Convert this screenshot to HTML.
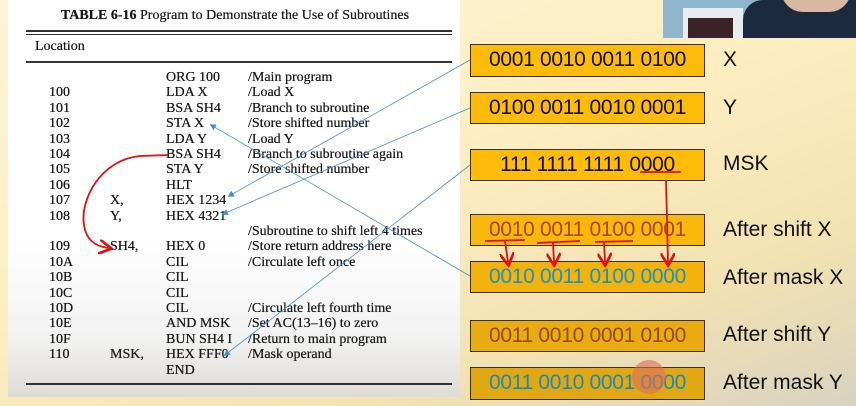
<!DOCTYPE html>
<html><head><meta charset="utf-8">
<style>
*{margin:0;padding:0;box-sizing:border-box}
body{width:856px;height:406px;overflow:hidden;position:relative;
background:linear-gradient(160deg,#fdf3d6 0%,#fdeec2 45%,#f3e2b2 75%,#d9d2c0 100%);
font-family:"Liberation Sans",sans-serif}
#panel{position:absolute;left:8px;top:0;width:452px;height:397px;
background:linear-gradient(180deg,#fff 0%,#fff 60%,#f2f2f2 85%,#dedcd6 100%)}
.t{position:absolute;font-family:"Liberation Serif",serif;font-size:14px;color:#1a1a1a;white-space:nowrap;line-height:1;text-shadow:0 0 0.4px #000}
.rule{position:absolute;left:18px;width:426px;background:#333}
.box{position:absolute;left:470px;width:235px;border:1.5px solid #333;background:#ffbb0a;
font-size:21px;line-height:30px;text-align:center;color:#111;letter-spacing:-0.3px}
.lab{position:absolute;left:723px;font-size:21px;color:#111;white-space:nowrap}
#cam{position:absolute;left:663px;top:0;width:193px;height:38px;background:#8fb6cc;overflow:hidden}
</style></head><body>
<div id="panel">
<div class="t" style="left:22px;top:9px;font-size:14px;width:410px;text-align:center"><b>TABLE 6-16</b> Program to Demonstrate the Use of Subroutines</div>
<div class="rule" style="top:30px;height:2px"></div>
<div class="rule" style="top:34px;height:1px"></div>
<div class="t" style="left:27px;top:40px">Location</div>
<div class="rule" style="top:61px;height:1.5px"></div>
<div class="rule" style="top:383px;height:1.5px"></div>
<div id="rows"></div>
</div>

<div id="cam">
<div style="position:absolute;left:20px;top:8px;width:60px;height:30px;background:#e8ecee"></div>
<div style="position:absolute;left:25px;top:18px;width:45px;height:20px;background:#3a2228"></div>
<div style="position:absolute;left:80px;top:0;width:113px;height:38px;background:#1c2a40;border-radius:20px 0 0 0"></div>
<div style="position:absolute;left:118px;top:-10px;width:70px;height:22px;background:#d8b8a0;border-radius:0 0 35px 35px"></div>
</div>

<div class="box" style="top:44px;height:33px">0001 0010 0011 0100</div>
<div class="lab" style="top:48px">X</div>
<div class="box" style="top:92px;height:32px">0100 0011 0010 0001</div>
<div class="lab" style="top:96px">Y</div>
<div class="box" style="top:149px;height:32px">111 1111 1111 0000</div>
<div class="lab" style="top:152px">MSK</div>
<div class="box" style="top:214px;height:32px;color:#a9480c;background:#fbb80c">0010 0011 0100 0001</div>
<div class="lab" style="top:218px">After shift X</div>
<div class="box" style="top:261px;height:32px;color:#1894c0;background:#f4b20c">0010 0011 0100 0000</div>
<div class="lab" style="top:266px">After mask X</div>
<div class="box" style="top:320px;height:32px;color:#9a4a10;background:#e8ac10">0011 0010 0001 0100</div>
<div class="lab" style="top:323px">After shift Y</div>
<div class="box" style="top:367px;height:33px;color:#1a8cb4;background:#e2a814">0011 0010 0001 0000</div>
<div class="lab" style="top:371px">After mask Y</div>
<div style="position:absolute;left:632px;top:360px;width:34px;height:34px;border-radius:50%;background:rgba(220,110,90,0.6)"></div>

<svg width="856" height="406" style="position:absolute;left:0;top:0">
<defs><marker id="ab" markerWidth="8" markerHeight="8" refX="6" refY="4" orient="auto"><path d="M0,0 L8,4 L0,8z" fill="#3f8fd0"/></marker>
<marker id="ar" markerWidth="8" markerHeight="8" refX="5" refY="4" orient="auto"><path d="M0,0 L7,4 L0,8" fill="none" stroke="#e01010" stroke-width="1.5"/></marker></defs>
<g stroke="#4a8fcc" stroke-width="0.8" fill="none">
<line x1="470" y1="60" x2="229" y2="196" marker-end="url(#ab)"/>
<line x1="470" y1="108" x2="223" y2="214" marker-end="url(#ab)"/>
<line x1="470" y1="165" x2="225" y2="355" marker-end="url(#ab)"/>
<line x1="470" y1="276" x2="211" y2="125" marker-end="url(#ab)"/>
</g>
<g stroke="#e01010" stroke-width="1.8" fill="none">
<path d="M168,155 L140,156 C100,160 80,200 84,225 C86,240 95,246 108,248" marker-end="url(#ar)"/>
<line x1="640" y1="172" x2="681" y2="172"/>
<path d="M666,180 L668,262" marker-end="url(#ar)"/>
<line x1="485" y1="241" x2="525" y2="240"/><line x1="537" y1="243" x2="580" y2="241"/><line x1="595" y1="242" x2="633" y2="241"/>
<path d="M505,241 L508,262" marker-end="url(#ar)"/>
<path d="M553,243 L554,262" marker-end="url(#ar)"/>
<path d="M604,242 L605,262" marker-end="url(#ar)"/>
</g>
</svg>

<script>
const rowsData=[
["","","ORG 100","/Main program"],["100","","LDA X","/Load X"],["101","","BSA SH4","/Branch to subroutine"],
["102","","STA X","/Store shifted number"],["103","","LDA Y","/Load Y"],["104","","BSA SH4","/Branch to subroutine again"],
["105","","STA Y","/Store shifted number"],["106","","HLT",""],["107","X,","HEX 1234",""],["108","Y,","HEX 4321",""],
["","","","/Subroutine to shift left 4 times"],["109","SH4,","HEX 0","/Store return address here"],
["10A","","CIL","/Circulate left once"],["10B","","CIL",""],["10C","","CIL",""],["10D","","CIL","/Circulate left fourth time"],
["10E","","AND MSK","/Set AC(13\u201316) to zero"],["10F","","BUN SH4 I","/Return to main program"],
["110","MSK,","HEX FFF0","/Mask operand"],["","","END",""]];
const cols=[41,102,158,240];
const host=document.getElementById('rows');
rowsData.forEach((r,i)=>{r.forEach((txt,c)=>{if(!txt)return;
const d=document.createElement('div');d.className='t';
d.style.left=cols[c]+'px';d.style.top=(71+i*15.4)+'px';d.textContent=txt;


host.appendChild(d);});});
</script>
</body></html>
